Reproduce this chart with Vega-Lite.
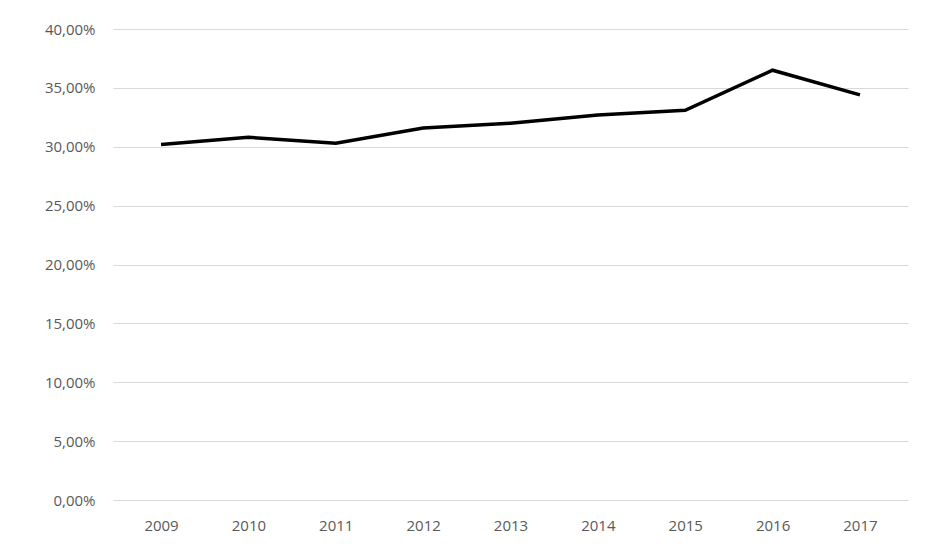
{
  "$schema": "https://vega.github.io/schema/vega-lite/v6.json",
  "autosize": {"type": "none"},
  "padding": {"left": 113, "top": 29, "right": 23, "bottom": 59},
  "width": 795,
  "height": 471,
  "background": "white",
  "config": {
    "locale": {"number": {"decimal": ",", "thousands": ".", "grouping": [3], "currency": ["", "€"]}},
    "view": {"stroke": null},
    "axis": {"labelFont": "Open Sans", "labelFontSize": 15, "labelColor": "#595959", "domain": false, "ticks": false, "title": null}
  },
  "data": {"values": [
    {"year": "2009", "value": 0.302},
    {"year": "2010", "value": 0.308},
    {"year": "2011", "value": 0.303},
    {"year": "2012", "value": 0.316},
    {"year": "2013", "value": 0.320},
    {"year": "2014", "value": 0.327},
    {"year": "2015", "value": 0.331},
    {"year": "2016", "value": 0.365},
    {"year": "2017", "value": 0.344}
  ]},
  "mark": {"type": "line", "color": "black", "strokeWidth": 3.5},
  "encoding": {
    "x": {"field": "year", "type": "ordinal", "scale": {"type": "point", "padding": 0.55}, "axis": {"labelAngle": 0, "grid": false, "labelPadding": 18}},
    "y": {"field": "value", "type": "quantitative", "scale": {"domain": [0, 0.4], "nice": false}, "axis": {"format": ".2%", "values": [0, 0.05, 0.1, 0.15, 0.2, 0.25, 0.3, 0.35, 0.4], "gridColor": "#d9d9d9", "labelPadding": 18}}
  }
}
